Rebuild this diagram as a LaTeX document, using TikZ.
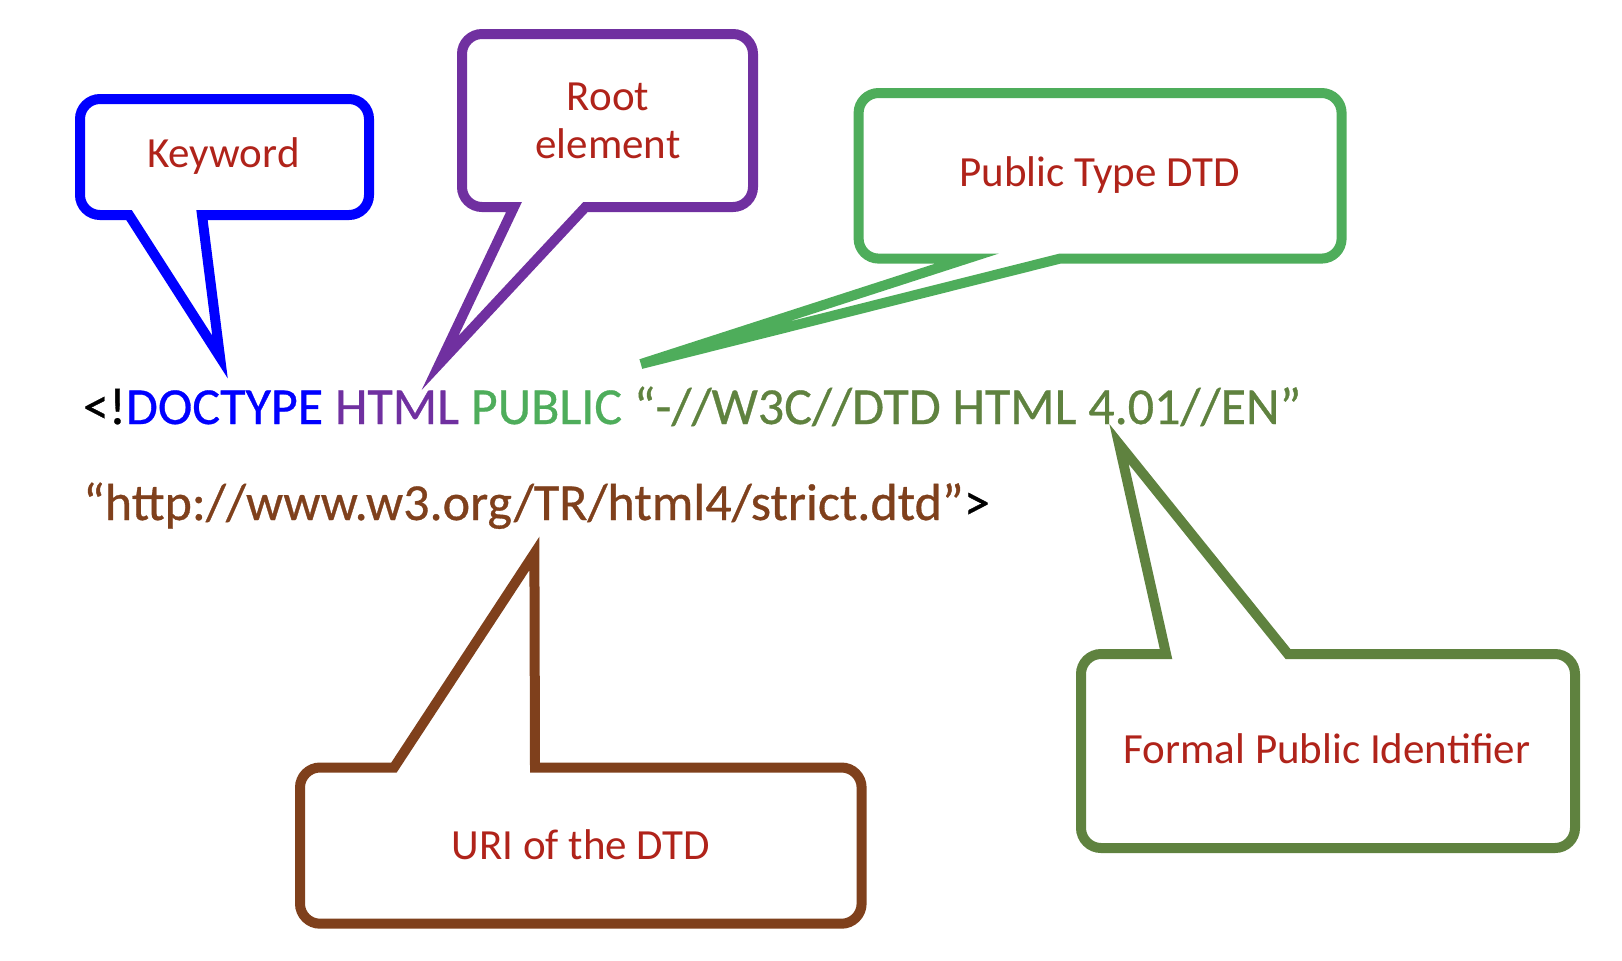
\documentclass[tikz,border=0pt]{standalone}
\usepackage{fontspec}
\setmainfont{Carlito}
\newfontfamily\codefont{Carlito}[FakeBold=0.6]
\definecolor{kwblue}{HTML}{0000FF}
\definecolor{rootpurple}{HTML}{7030A0}
\definecolor{pubgreen}{HTML}{4EAD5B}
\definecolor{fpigreen}{HTML}{5F823F}
\definecolor{uribrown}{HTML}{7F401C}
\definecolor{labelred}{HTML}{B0231A}
\begin{document}
\begin{tikzpicture}[x=0.5pt,y=-0.5pt,
  callout/.style={line width=5pt, line join=miter, fill=white},
  lbl/.style={text=labelred, font=\fontsize{21.5}{24}\selectfont, inner sep=0pt, align=center},
  code/.style={anchor=base west, inner sep=0pt, font=\codefont\fontsize{26}{30}\selectfont}]
\useasboundingbox (0,0) rectangle (1622,960);
% Keyword callout
\coordinate (kwtip) at (220,357);
\draw[callout, draw=kwblue] (202,215) -- (349,215) .. controls (360,215) and (369,206) .. (369,195) -- (369,119) .. controls (369,108) and (360,99) .. (349,99) -- (100,99) .. controls (89,99) and (80,108) .. (80,119) -- (80,195) .. controls (80,206) and (89,215) .. (100,215) -- (129,215) -- (kwtip) -- cycle;
\node[lbl] (kw) at (223.4,156) {Keyword};
% Root element callout
\coordinate (roottip) at (440,363);
\draw[callout, draw=rootpurple] (585.5,207) -- (733,207) .. controls (744,207) and (753,198) .. (753,187) -- (753,54) .. controls (753,43) and (744,34) .. (733,34) -- (482,34) .. controls (471,34) and (462,43) .. (462,54) -- (462,187) .. controls (462,198) and (471,207) .. (482,207) -- (514,207) -- (roottip) -- cycle;
\node[lbl] (root) at (608,121) {Root\\element};
% Public Type DTD callout
\coordinate (pubtip) at (641,364);
\draw[callout, draw=pubgreen] (1060,258.6) -- (1321.6,258.6) .. controls (1332.6,258.6) and (1341.6,249.6) .. (1341.6,238.6) -- (1341.6,113) .. controls (1341.6,102) and (1332.6,93) .. (1321.6,93) -- (878.6,93) .. controls (867.6,93) and (858.6,102) .. (858.6,113) -- (858.6,238.6) .. controls (858.6,249.6) and (867.6,258.6) .. (878.6,258.6) -- (967,258.6) -- (pubtip) -- cycle;
\node[lbl] (pub) at (1099.6,175.5) {Public Type DTD};
% Formal Public Identifier callout
\coordinate (fpitip) at (1119,444);
\draw[callout, draw=fpigreen] (1166,654) -- (1101,654) .. controls (1090,654) and (1081,663) .. (1081,674) -- (1081,828) .. controls (1081,839) and (1090,848) .. (1101,848) -- (1555,848) .. controls (1566,848) and (1575,839) .. (1575,828) -- (1575,674) .. controls (1575,663) and (1566,654) .. (1555,654) -- (1288,654) -- (fpitip) -- cycle;
\node[lbl] (fpi) at (1327,749) {Formal Public Identifier};
% URI callout
\coordinate (uritip) at (534.4,553.4);
\draw[callout, draw=uribrown] (394,767.5) -- (320,767.5) .. controls (309,767.5) and (300,776.5) .. (300,787.5) -- (300,903.7) .. controls (300,914.7) and (309,923.7) .. (320,923.7) -- (841.6,923.7) .. controls (852.6,923.7) and (861.6,914.7) .. (861.6,903.7) -- (861.6,787.5) .. controls (861.6,776.5) and (852.6,767.5) .. (841.6,767.5) -- (535,767.5) -- (uritip) -- cycle;
\node[lbl] (uri) at (581,845) {URI of the DTD};
% code lines
\node[code] (line1) at (82.7,424) {<!\textcolor{kwblue}{DOCTYPE} \textcolor{rootpurple}{HTML} \textcolor{pubgreen}{PUBLIC} \textcolor{fpigreen}{“-//W3C//DTD HTML 4.01//EN”}};
\node[code] (line2) at (82.7,520) {\textcolor{uribrown}{“http://www.w3.org/TR/html4/strict.dtd”}>};
\end{tikzpicture}
\end{document}
